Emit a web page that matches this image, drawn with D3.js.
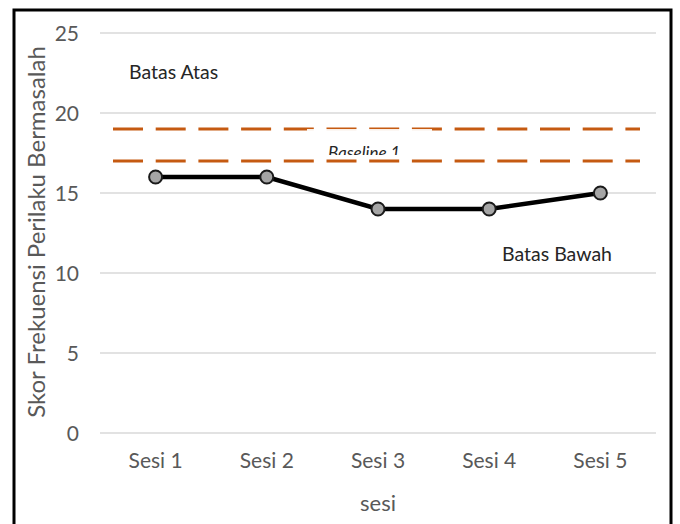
<!DOCTYPE html>
<html>
<head>
<meta charset="utf-8">
<script src="https://cdn.jsdelivr.net/npm/d3@7"></script>
<style>
  body { margin: 0; background: #fff; }
  svg text { font-family: Lato, "Open Sans", sans-serif; }
</style>
</head>
<body>
<div id="chart"></div>
<script>
// data
var sessions = ["Sesi 1", "Sesi 2", "Sesi 3", "Sesi 4", "Sesi 5"];
var scores = [16, 16, 14, 14, 15];
var yTicks = [0, 5, 10, 15, 20, 25];
var limits = [19, 17]; // upper and lower dashed lines

var width = 680, height = 524;
var plot = {l: 100, r: 656, t: 33, b: 433};

var svg = d3.select("#chart").append("svg")
    .attr("width", width)
    .attr("height", height);

// outer frame
svg.append("rect")
    .attr("x", 14).attr("y", 10)
    .attr("width", 657).attr("height", 530)
    .attr("fill", "none")
    .attr("stroke", "#000")
    .attr("stroke-width", 3);

var x = d3.scaleBand().domain(sessions).range([plot.l, plot.r]);
var y = d3.scaleLinear().domain([0, 25]).range([plot.b, plot.t]);

// gridlines
svg.append("g")
    .selectAll("line")
    .data(yTicks)
    .enter().append("line")
    .attr("x1", plot.l).attr("x2", plot.r)
    .attr("y1", function (d) { return y(d); })
    .attr("y2", function (d) { return y(d); })
    .attr("stroke", "#d9d9d9")
    .attr("stroke-width", 1.3);

// y axis labels
var yAxis = svg.append("g")
    .attr("transform", "translate(" + plot.l + ",0)")
    .call(d3.axisLeft(y).tickValues(yTicks).tickSize(0).tickPadding(21));
yAxis.select(".domain").remove();
yAxis.selectAll("text")
    .attr("fill", "#595959")
    .style("font-size", "21px")
    .attr("dy", "0.36em");

// x axis labels
var xAxis = svg.append("g")
    .attr("transform", "translate(0," + plot.b + ")")
    .call(d3.axisBottom(x).tickSize(0).tickPadding(20));
xAxis.select(".domain").remove();
xAxis.selectAll("text")
    .attr("fill", "#595959")
    .style("font-size", "21px");

// axis titles
svg.append("text")
    .attr("transform", "translate(45,232) rotate(-90)")
    .attr("text-anchor", "middle")
    .attr("fill", "#595959")
    .style("font-size", "24px")
    .text("Skor Frekuensi Perilaku Bermasalah");

svg.append("text")
    .attr("x", (plot.l + plot.r) / 2)
    .attr("y", 511)
    .attr("text-anchor", "middle")
    .attr("fill", "#595959")
    .style("font-size", "22px")
    .text("sesi");

// dashed limit lines
var dashX = [plot.l + 13, plot.r - 16];
svg.append("g")
    .selectAll("line")
    .data(limits)
    .enter().append("line")
    .attr("x1", dashX[0]).attr("x2", dashX[1])
    .attr("y1", function (d) { return y(d); })
    .attr("y2", function (d) { return y(d); })
    .attr("stroke", "#c55a11")
    .attr("stroke-width", 3)
    .attr("stroke-dasharray", "30,12.7");

// label box of "Baseline 1" covering half of the upper line
var boxH = y(limits[1]) - y(limits[0]) - 6;
svg.append("rect")
    .attr("x", 307).attr("y", y(limits[0]))
    .attr("width", 125).attr("height", boxH)
    .attr("fill", "#fff")
    .attr("fill-opacity", 0.9);

svg.append("clipPath").attr("id", "boxclip")
    .append("rect")
    .attr("x", 307).attr("y", y(limits[0]))
    .attr("width", 125).attr("height", boxH);

svg.append("text")
    .attr("x", 328)
    .attr("y", 159)
    .attr("clip-path", "url(#boxclip)")
    .attr("fill", "#262626")
    .style("font-size", "17px")
    .style("font-style", "italic")
    .text("Baseline 1");

// score line
var line = d3.line()
    .x(function (d, i) { return x(sessions[i]) + x.bandwidth() / 2; })
    .y(function (d) { return y(d); });

svg.append("path")
    .datum(scores)
    .attr("d", line)
    .attr("fill", "none")
    .attr("stroke", "#000")
    .attr("stroke-width", 4.5);

svg.append("g")
    .selectAll("circle")
    .data(scores)
    .enter().append("circle")
    .attr("cx", function (d, i) { return x(sessions[i]) + x.bandwidth() / 2; })
    .attr("cy", function (d) { return y(d); })
    .attr("r", 6.5)
    .attr("fill", "#a5a5a5")
    .attr("stroke", "#1a1a1a")
    .attr("stroke-width", 2);

// annotations
svg.append("text")
    .attr("x", 129).attr("y", 79)
    .attr("fill", "#262626")
    .style("font-size", "19.5px")
    .text("Batas Atas");

svg.append("text")
    .attr("x", 502).attr("y", 261)
    .attr("fill", "#262626")
    .style("font-size", "19.5px")
    .text("Batas Bawah");
</script>
</body>
</html>
